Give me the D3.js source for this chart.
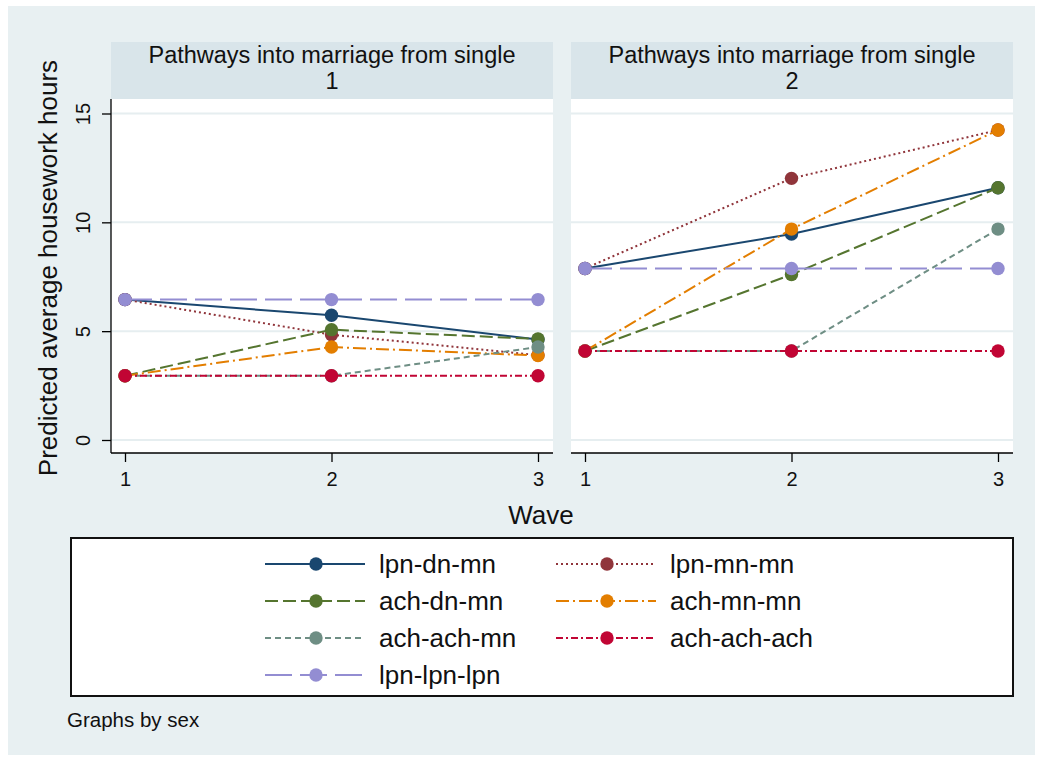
<!DOCTYPE html>
<html>
<head>
<meta charset="utf-8">
<script src="https://cdn.jsdelivr.net/npm/d3@7"></script>
<style>
  body { margin: 0; background: #fff; }
  svg { display: block; font-family: "Liberation Sans", Arial, sans-serif; }
</style>
</head>
<body>
<svg id="chart" width="1038" height="757"></svg>
<script>
const waves = [1, 2, 3];
const yTicks = [0, 5, 10, 15];
const panelTitles = ["Pathways into marriage from single\n1", "Pathways into marriage from single\n2"];
const seriesNames = ["lpn-dn-mn", "lpn-mn-mn", "ach-dn-mn", "ach-mn-mn", "ach-ach-mn", "ach-ach-ach", "lpn-lpn-lpn"];

// predicted hours per wave, panel 1 (sex = 1)
const panel1 = [
  [6.45, 5.73, 4.62],
  [6.45, 4.84, 3.9],
  [2.95, 5.07, 4.64],
  [2.95, 4.27, 3.88],
  [2.95, 2.95, 4.27],
  [2.95, 2.95, 2.95],
  [6.45, 6.45, 6.45]
];
// panel 2 (sex = 2)
const panel2 = [
  [7.88, 9.46, 11.59],
  [7.88, 12.02, 14.24],
  [4.09, 7.6, 11.59],
  [4.09, 9.69, 14.24],
  [4.09, 4.09, 9.69],
  [4.09, 4.09, 4.09],
  [7.88, 7.88, 7.88]
];

const colors = ["#1a476f", "#90353b", "#55752f", "#e37e00", "#6e8e84", "#c10534", "#938dd2"];
const dashes = [null, "2,3", "13,5", "13,4,2,4", "6,4", "7,3,2,3", "27,8"];

const svg = d3.select("#chart");
const bg = "#e8f0f2";
const stripColor = "#d9e5ea";
const gridColor = "#e6eef0";
const font = "Liberation Sans, Arial, sans-serif";

svg.append("rect").attr("x", 8).attr("y", 6).attr("width", 1027).attr("height", 749).attr("fill", bg);

const y = d3.scaleLinear().domain([0, 15]).range([440, 113.5]);
const panels = [
  { x0: 111, x1: 553, data: panel1, title: panelTitles[0] },
  { x0: 571, x1: 1013, data: panel2, title: panelTitles[1] }
];
const plotTop = 99, plotBottom = 453;

panels.forEach((p, pi) => {
  const x = d3.scaleLinear().domain([1, 3]).range([p.x0 + 14, p.x1 - 15]);
  const g = svg.append("g");

  // strip header
  g.append("rect").attr("x", p.x0).attr("y", 42).attr("width", p.x1 - p.x0).attr("height", plotTop - 42).attr("fill", stripColor);
  p.title.split("\n").forEach((t, i) => {
    g.append("text").attr("x", (p.x0 + p.x1) / 2).attr("y", 63 + i * 26)
      .attr("text-anchor", "middle").attr("font-size", 23.5).attr("fill", "#111").text(t);
  });

  // plot area
  g.append("rect").attr("x", p.x0).attr("y", plotTop).attr("width", p.x1 - p.x0).attr("height", plotBottom - plotTop).attr("fill", "#fff");
  g.selectAll("line.grid").data(yTicks).join("line")
    .attr("x1", p.x0).attr("x2", p.x1).attr("y1", d => y(d)).attr("y2", d => y(d))
    .attr("stroke", gridColor).attr("stroke-width", 2);

  // x axis
  const xAxis = d3.axisBottom(x).tickValues(waves).tickSize(9).tickFormat(d3.format("d"));
  const xg = g.append("g").attr("transform", `translate(0,${plotBottom})`).call(xAxis);
  xg.select(".domain").attr("d", `M${p.x0},0H${p.x1}`).attr("stroke", "#000").attr("stroke-width", 1.3);
  xg.selectAll(".tick line").attr("stroke", "#000").attr("stroke-width", 1.3);
  xg.selectAll(".tick text").attr("y", 33).attr("dy", null)
    .attr("font-size", 20).attr("font-family", font).attr("fill", "#111");

  // y axis on left panel only
  if (pi === 0) {
    const yAxis = d3.axisLeft(y).tickValues(yTicks).tickSize(9);
    const yg = g.append("g").attr("transform", `translate(${p.x0},0)`).call(yAxis);
    yg.select(".domain").attr("d", `M0,${plotTop}V${plotBottom}`).attr("stroke", "#000").attr("stroke-width", 1.3);
    yg.selectAll(".tick line").attr("stroke", "#000").attr("stroke-width", 1.3);
    yg.selectAll(".tick text").remove();
    yg.selectAll(".tick").append("text")
      .attr("transform", "translate(-28,0) rotate(-90)")
      .attr("text-anchor", "middle").attr("dy", "0.35em")
      .attr("font-size", 20).attr("font-family", font).attr("fill", "#111")
      .text(d => d);
  }

  // series
  const line = d3.line().x((d, i) => x(waves[i])).y(d => y(d));
  p.data.forEach((vals, si) => {
    g.append("path").attr("d", line(vals)).attr("fill", "none")
      .attr("stroke", colors[si]).attr("stroke-width", 2)
      .attr("stroke-dasharray", dashes[si]);
    g.selectAll(null).data(vals).join("circle")
      .attr("cx", (d, i) => x(waves[i])).attr("cy", d => y(d)).attr("r", 6.7)
      .attr("fill", colors[si]);
  });
});

// axis titles
svg.append("text").attr("x", 541).attr("y", 524).attr("text-anchor", "middle")
  .attr("font-size", 26).attr("fill", "#111").text("Wave");
svg.append("text").attr("transform", "translate(57,268) rotate(-90)").attr("text-anchor", "middle")
  .attr("font-size", 26).attr("fill", "#111").text("Predicted average housework hours");

// legend
svg.append("rect").attr("x", 71).attr("y", 538).attr("width", 942).attr("height", 158)
  .attr("fill", "#fff").attr("stroke", "#111").attr("stroke-width", 2);
const legendCols = [265, 556];
const legendRows = [564, 601, 638, 675];
seriesNames.forEach((name, i) => {
  const lx = legendCols[i % 2], ly = legendRows[Math.floor(i / 2)];
  const lg = svg.append("g");
  lg.append("line").attr("x1", lx).attr("x2", lx + 100).attr("y1", ly).attr("y2", ly)
    .attr("stroke", colors[i]).attr("stroke-width", 2).attr("stroke-dasharray", dashes[i]);
  lg.append("circle").attr("cx", lx + 51).attr("cy", ly).attr("r", 6.7).attr("fill", colors[i]);
  lg.append("text").attr("x", lx + 114).attr("y", ly).attr("dy", "0.35em")
    .attr("font-size", 26).attr("fill", "#111").text(name);
});

svg.append("text").attr("x", 67).attr("y", 727).attr("font-size", 20.5).attr("fill", "#111").text("Graphs by sex");
</script>
</body>
</html>
